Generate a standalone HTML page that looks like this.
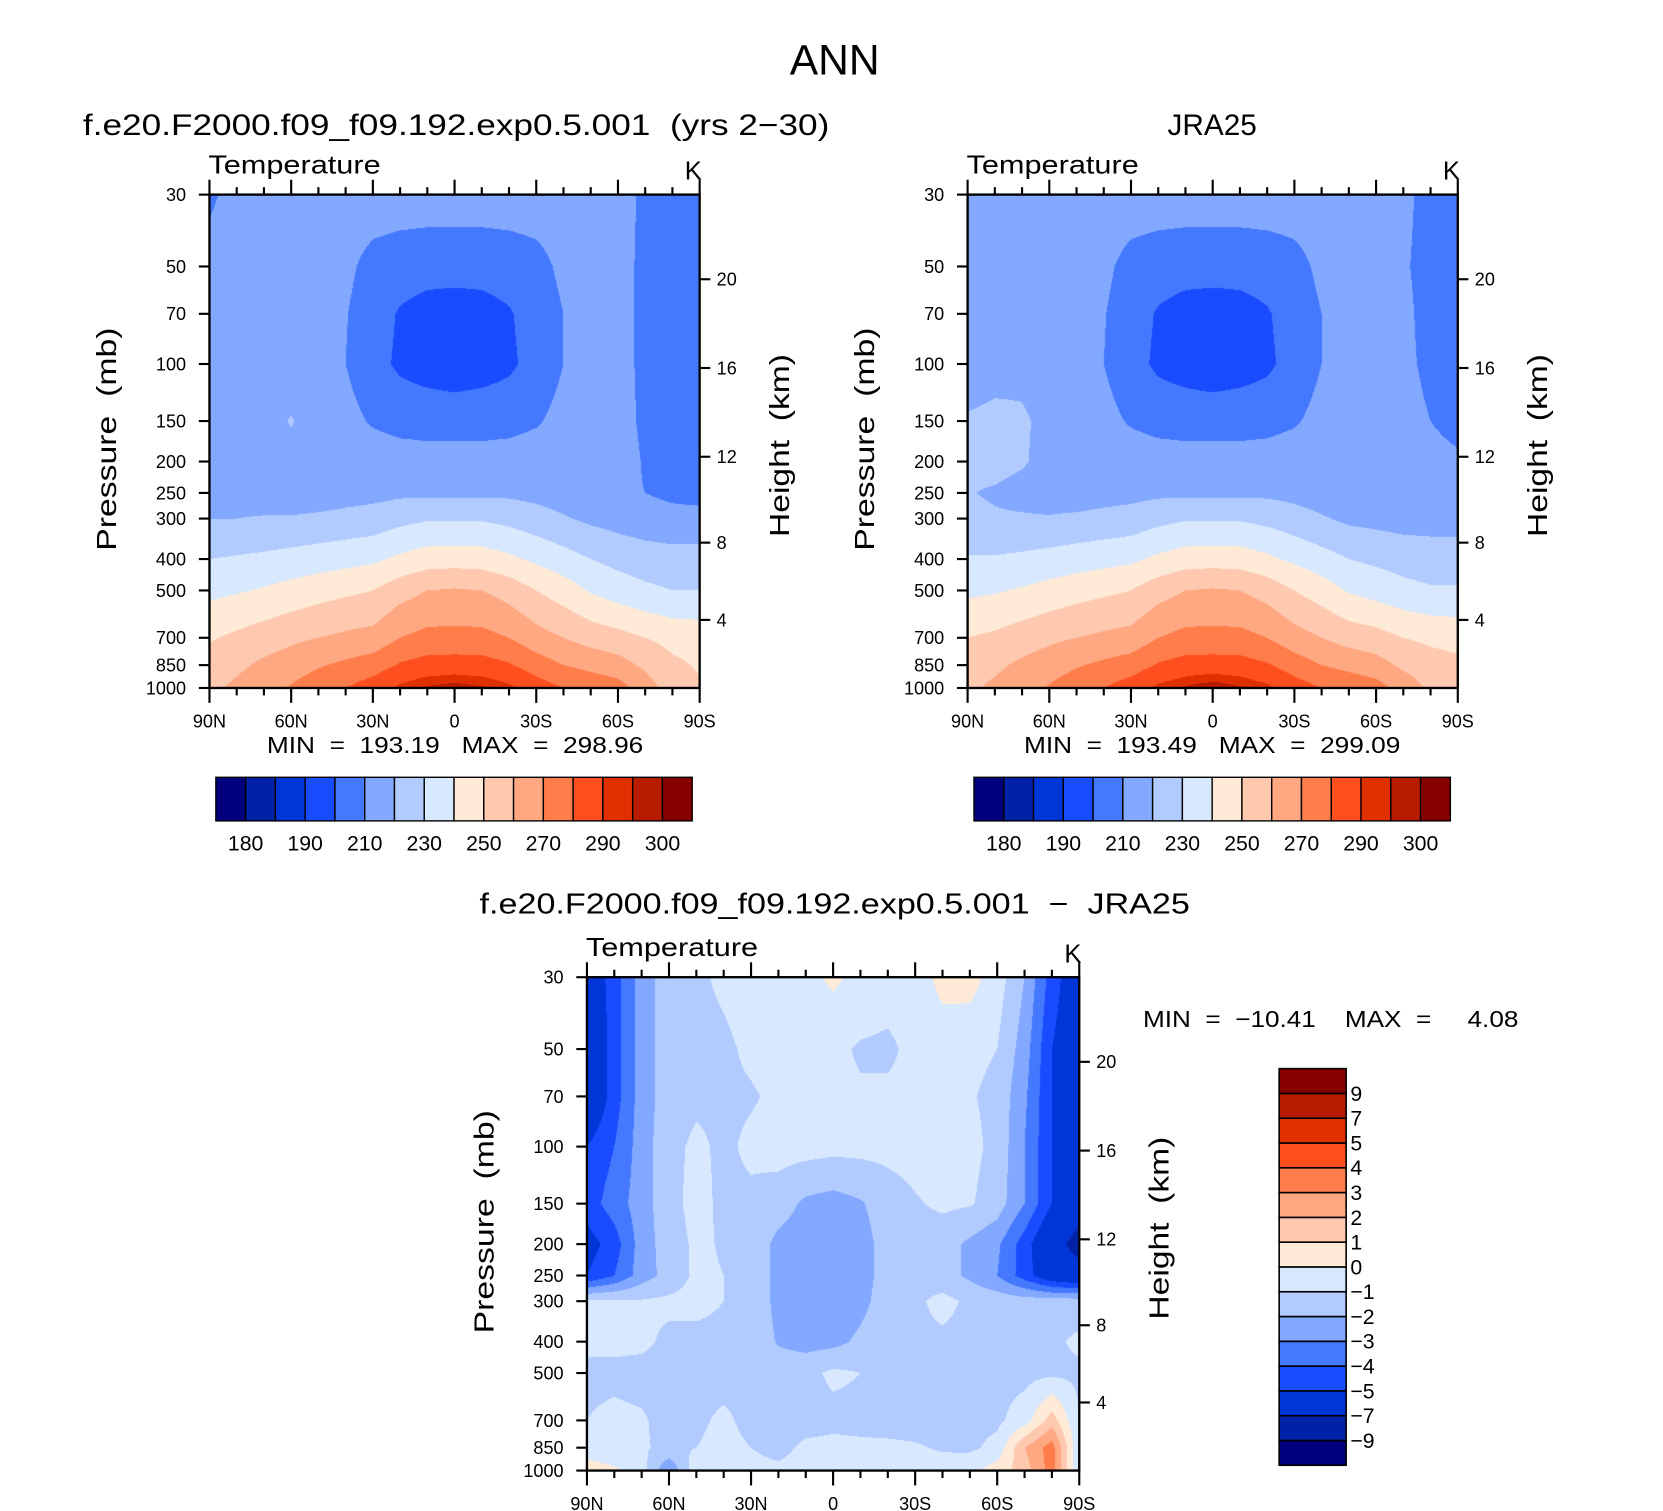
<!DOCTYPE html>
<html><head><meta charset="utf-8"><title>ANN Temperature</title>
<style>
html,body{margin:0;padding:0;background:#fff;}
#wrap{position:relative;width:1663px;height:1511px;overflow:hidden;}
#field{position:absolute;left:0;top:0;}
#ov{position:absolute;left:0;top:0;}
text{font-family:"Liberation Sans",sans-serif;fill:#000;white-space:pre;}
</style></head>
<body>
<div id="wrap">
<canvas id="field" width="1663" height="1511"></canvas>
<svg id="ov" width="1663" height="1511" viewBox="0 0 1564 1421" xmlns="http://www.w3.org/2000/svg"></svg>
</div>
<script>
// ---------- data ----------
const lats=[90,80,70,60,50,40,30,20,10,0,-10,-20,-30,-40,-50,-60,-70,-80,-90];
const pres=[30,50,70,100,150,200,250,300,400,500,700,850,1000];
const latTickLabels=['90N','60N','30N','0','30S','60S','90S'];
const latTickValues=[90,60,30,0,-30,-60,-90];
const hTicks=[20,16,12,8,4];
const absLevels=[180,185,190,200,210,220,230,240,250,260,270,280,290,295,300];
const absLabelValues=[180,190,210,230,250,270,290,300];
const diffLevels=[-9,-7,-5,-4,-3,-2,-1,0,1,2,3,4,5,7,9];
const diffLabels=['−9','−7','−5','−4','−3','−2','−1','0','1','2','3','4','5','7','9'];
const palette=["#03007d","#0022a6","#0035d8","#1a4cff","#4479ff","#82a8ff","#b2cbff","#d8e8ff","#ffead8","#ffc9b0","#ffa882","#ff7d4a","#ff4f1e","#e03000","#b81c00","#870000"];
const modelT=[
[209,212,214,215,215,215,215,215,215,215,215,215,215,215,215,214,208,207,207],
[212,214,215,215,214,212,207,205,204,204,204,205,207,212,214,213,208,206,205],
[212,214,215,215,213,210.5,205,199,196,195,196,199,205,210,213,213,208,206,205],
[212,214,215,215,213,210,204,198,195,193,195,198,204,210,213,213,208,206,205],
[213,215,216,220.6,215,213,209,207,207,207,207,207,209,213,215,214,208,206,205],
[214,215,216,217,217,216,215,214,213,213,213,214,215,216,216,215,209,207,207],
[214,214,213,213,214,216,217,218,218,218,218,218,217,215,213,212,210,208,207],
[220,220,221,221,222,223,224,227,229,229,229,227,224,221,218,216,214,213,213],
[230,231,232,233.5,235,236.5,238,242,245,245.5,245,242,238,234,230,227,225,224,224],
[237.5,239,241,243.5,246,248,250,256,260,261,260,256,250,245,239,235,232,230,230],
[249,252,255,258,260,262,263.5,270,273,273,273,270,264,260,256,253.5,250,247,246],
[254,258,262,265,269,272,275,281,284,284.5,284,281,275,270,267,264,258,252,249],
[258,262,266,271,276,280,285,292,296,298,296,292,285,280,277,274,265,255,251]];
const jraT=[
[214,214,215,215,215,215,215,215,215,215,215,215,215,215,215,214,212,207,207],
[214,214,215,215,214,212,207,205,204,204,204,205,207,212,214,213,211,207,206],
[214,215,216,215,213,210.5,205,199,196,195,196,199,205,210,213,213,212,207,206],
[215,217,218,216,213,210,204,198,195,193,195,198,204,210,213,213,212,208,207],
[221,222,221,218,215,213,209,207,207,207,207,207,209,213,215,214,213,210,208],
[222,223,221,217,216,216,215,214,213,213,213,214,215,216,216,215,213,212,211],
[220.5,219,217,214,214,216,217,218,218,218,218,218,217,215,213,212,211,211,211],
[222,221,221,221,222,223,224,227,229,229,229,227,224,221,218,217,216,216,216],
[231,231,232,233.5,235,236.5,238,242,245,245.5,245,242,238,234,230,228,226,225,225],
[238,239,241,243.5,246,248,250,256,260,261,260,256,250,245,239,236,233,231,231],
[250,252,255,258,260,262,263.5,270,273,273,273,270,264,260,256,254,250,248,247],
[255,258,262,265,269,272,275,281,284,284.5,284,281,275,270,267,264,258,254,252],
[258,262,266,271,276,280,285,292,296,299,296,292,285,280,277,274,266,258,254]];
const diffT=[
[-6,-4.5,-2.5,-1.5,-1.2,-0.8,-0.5,-0.5,-0.3,0.2,-0.3,-0.5,-0.5,0.3,0.4,-0.5,-2,-4.5,-6],
[-6.5,-4.5,-2.5,-1.5,-1.3,-1.2,-0.8,-0.6,-0.7,-0.8,-1.1,-1.2,-0.7,-0.5,-0.7,-1,-2.5,-5,-6],
[-6.5,-4.5,-2.5,-1.5,-1.2,-1.2,-1.1,-0.8,-0.7,-0.8,-0.9,-0.8,-0.8,-0.8,-0.9,-1.3,-2.8,-5,-6],
[-5,-4,-2.5,-1.3,-0.8,-1.2,-0.8,-0.6,-0.6,-0.7,-0.7,-0.7,-0.6,-0.6,-0.7,-1.3,-3,-5,-5.5],
[-4.5,-3.5,-2.5,-1.3,-0.7,-1.2,-1.2,-1.5,-2.2,-2.4,-2.1,-1.5,-1.1,-0.8,-0.9,-1.5,-3,-5,-6.5],
[-5.5,-4.5,-2.5,-1.5,-0.8,-1.1,-1.3,-2.3,-2.6,-2.6,-2.4,-1.6,-1.5,-1.6,-2.2,-2.8,-4.5,-6.5,-7.5],
[-5,-4,-2.5,-1.6,-0.8,-1.0,-1.3,-2.3,-2.6,-2.6,-2.4,-1.6,-1.4,-1.6,-2.2,-3,-4.5,-6,-6.5],
[-0.8,-0.8,-0.9,-0.8,-0.7,-1.0,-1.3,-2.3,-2.6,-2.6,-2.3,-1.5,-1.2,-0.7,-1.2,-1.4,-1.5,-1.5,-1.5],
[-0.8,-0.8,-0.8,-1.2,-1.3,-1.3,-1.3,-2.1,-2.4,-2.3,-1.8,-1.3,-1.2,-1.2,-1.3,-1.3,-1.3,-1.2,-0.8],
[-1.2,-1.2,-1.3,-1.4,-1.4,-1.4,-1.4,-1.4,-1.3,-0.8,-1.0,-1.3,-1.4,-1.4,-1.4,-1.3,-1.3,-1.2,-1.2],
[-1.0,-0.8,-0.9,-1.3,-1.2,-0.8,-1.3,-1.4,-1.4,-1.3,-1.3,-1.4,-1.4,-1.4,-1.3,-1.2,-0.5,1.5,-1],
[-0.5,-0.8,-0.9,-1.2,-1.0,-0.7,-1.0,-1.3,-0.8,-0.7,-0.8,-0.8,-0.9,-1.1,-1.2,-0.7,2,3.5,-1],
[0.5,0.2,-0.5,-3,-0.2,-0.5,-0.7,-0.8,-0.6,-0.6,-0.6,-0.6,-0.6,-0.6,-0.3,0.5,1.5,3.5,-1]];

// ---------- layout ----------
const S=1663/1564;
const NS='http://www.w3.org/2000/svg';
const svg=document.getElementById('ov');
const plots=[
 {id:'model',x0:197,y0:183,w:461,h:464,data:modelT,levels:absLevels},
 {id:'jra',x0:910,y0:183,w:461,h:464,data:jraT,levels:absLevels},
 {id:'diff',x0:552,y0:919,w:463,h:464,data:diffT,levels:diffLevels}];
const LN=Math.log(1000/30);
function xOf(p,lat){return p.x0+p.w*(90-lat)/180;}
function yOf(p,pr){return p.y0+p.h*Math.log(pr/30)/LN;}
function stdP(zkm){const z=zkm*1000;return z<=11000?1013.25*Math.pow(1-2.25577e-5*z,5.25588):226.32*Math.exp(-(z-11000)/6341.6);}

function mk(tag,attrs,name,inter){
 const el=document.createElementNS(NS,tag);
 for(const k in attrs) el.setAttribute(k,attrs[k]);
 
 
 svg.appendChild(el);return el;}
function txt(x,y,s,size,anchor,name,extra){
 const a=Object.assign({x:x,y:y,'font-size':size,'text-anchor':anchor||'start'},extra||{});
 const el=mk('text',a,name,false);el.textContent=s;return el;}
function line(x1,y1,x2,y2,w,name){return mk('line',{x1:x1,y1:y1,x2:x2,y2:y2,stroke:'#000','stroke-width':w},name,false);}

// ---------- fields on canvas ----------
const cv=document.getElementById('field');const ctx=cv.getContext('2d');
const img=ctx.createImageData(1663,1511);const D=img.data;
const rgb=palette.map(c=>[parseInt(c.substr(1,2),16),parseInt(c.substr(3,2),16),parseInt(c.substr(5,2),16)]);
const lnP=pres.map(v=>Math.log(v));
plots.forEach(p=>{
 const px0=Math.round(p.x0*S),px1=Math.round((p.x0+p.w)*S),py0=Math.round(p.y0*S),py1=Math.round((p.y0+p.h)*S);
 for(let py=py0;py<py1;py++){
  const ty=(py+0.5)/S;const lp=Math.log(30)+(ty-p.y0)/p.h*LN;
  let k=0;while(k<pres.length-2&&lnP[k+1]<lp)k++;
  let fy=(lp-lnP[k])/(lnP[k+1]-lnP[k]);fy=Math.max(0,Math.min(1,fy));
  const r0=p.data[k],r1=p.data[k+1];
  for(let px=px0;px<px1;px++){
   const tx=(px+0.5)/S;let fi=(tx-p.x0)/p.w*(lats.length-1);
   fi=Math.max(0,Math.min(lats.length-1.0001,fi));const i=Math.floor(fi),fx=fi-i;
   const v=(r0[i]*(1-fx)+r0[i+1]*fx)*(1-fy)+(r1[i]*(1-fx)+r1[i+1]*fx)*fy;
   let c=0;while(c<p.levels.length&&v>=p.levels[c])c++;
   const o=(py*1663+px)*4;D[o]=rgb[c][0];D[o+1]=rgb[c][1];D[o+2]=rgb[c][2];D[o+3]=255;}
 }});
ctx.putImageData(img,0,0);

// ---------- titles ----------
txt(785,70,'ANN',40,'middle','main-title');
txt(78,127,'f.e20.F2000.f09_f09.192.exp0.5.001  (yrs 2−30)',28,'start','model-title',{textLength:702,lengthAdjust:'spacingAndGlyphs'});
txt(1140,127,'JRA25',28,'middle','obs-title');
txt(785,859,'f.e20.F2000.f09_f09.192.exp0.5.001  −  JRA25',27,'middle','difference-title',{textLength:668,lengthAdjust:'spacingAndGlyphs'});

// ---------- axes ----------
plots.forEach(p=>{
 const x1=p.x0+p.w,y1=p.y0+p.h;
 mk('rect',{x:p.x0,y:p.y0,width:p.w,height:p.h,fill:'none',stroke:'#000','stroke-width':2.2},p.id+'-plot-frame',false);
 txt(p.x0-1,p.y0-20,'Temperature',24,'start',p.id+'-variable-label',{textLength:162,lengthAdjust:'spacingAndGlyphs'});
 txt(x1+2,p.y0-14,'K',24,'end',p.id+'-units-label');
 for(let lat=90;lat>=-90;lat-=10){
  const x=xOf(p,lat);const major=(lat%30===0);const L=major?14:7;
  line(x,p.y0,x,p.y0-L,2,p.id+'-top-tick');
  line(x,y1,x,y1+L,2,p.id+'-bottom-tick');}
 latTickValues.forEach((lat,i)=>{txt(xOf(p,lat),y1+37,latTickLabels[i],17,'middle',p.id+'-x-tick-label');});
 pres.forEach(pr=>{const y=yOf(p,pr);line(p.x0-10,y,p.x0,y,2,p.id+'-y-tick');
  txt(p.x0-22,y+6,String(pr),17,'end',p.id+'-y-tick-label');});
 hTicks.forEach(z=>{const y=yOf(p,stdP(z));line(x1,y,x1+10,y,2,p.id+'-height-tick');
  txt(x1+16,y+6,String(z),17,'start',p.id+'-height-tick-label');});
 const cy=p.y0+p.h*0.5;
 txt(0,0,'Pressure  (mb)',26,'middle',p.id+'-y-axis-title',{transform:'translate('+(p.x0-88)+','+(cy-2)+') rotate(-90)',textLength:210,lengthAdjust:'spacingAndGlyphs'});
 txt(0,0,'Height  (km)',26,'middle',p.id+'-right-axis-title',{transform:'translate('+(x1+84)+','+(cy+4)+') rotate(-90)',textLength:172,lengthAdjust:'spacingAndGlyphs'});
});
// min/max
txt(428,708,'MIN  =  193.19   MAX  =  298.96',22,'middle','model-min-max',{textLength:354,lengthAdjust:'spacingAndGlyphs'});
txt(1140,708,'MIN  =  193.49   MAX  =  299.09',22,'middle','obs-min-max',{textLength:354,lengthAdjust:'spacingAndGlyphs'});
txt(1075,966,'MIN  =  −10.41    MAX  =     4.08',22,'start','difference-min-max',{textLength:353,lengthAdjust:'spacingAndGlyphs'});

// ---------- horizontal colorbars ----------
[[203,'model'],[916,'obs']].forEach(([cx,id])=>{
 const bw=28,y=731,h=41;
 palette.forEach((c,i)=>{mk('rect',{x:cx+i*bw,y:y,width:bw,height:h,fill:c,stroke:'#000','stroke-width':1.3},id+'-colorbar-box',false);});
 absLabelValues.forEach(v=>{const k=absLevels.indexOf(v);txt(cx+(k+1)*bw,y+h+28,String(v),20,'middle',id+'-colorbar-label');});
});
// ---------- vertical colorbar ----------
(function(){
 const x=1203,w=63,y0=1005,bh=373/16;
 palette.forEach((c,i)=>{mk('rect',{x:x,y:y0+(15-i)*bh,width:w,height:bh,fill:c,stroke:'#000','stroke-width':1.5},'difference-colorbar-box',false);});
 diffLevels.forEach((v,k)=>{const y=y0+(15-(k+1))*bh+bh;txt(x+67,y+7,diffLabels[k],20,'start','difference-colorbar-label');});
})();
</script>
</body></html>
